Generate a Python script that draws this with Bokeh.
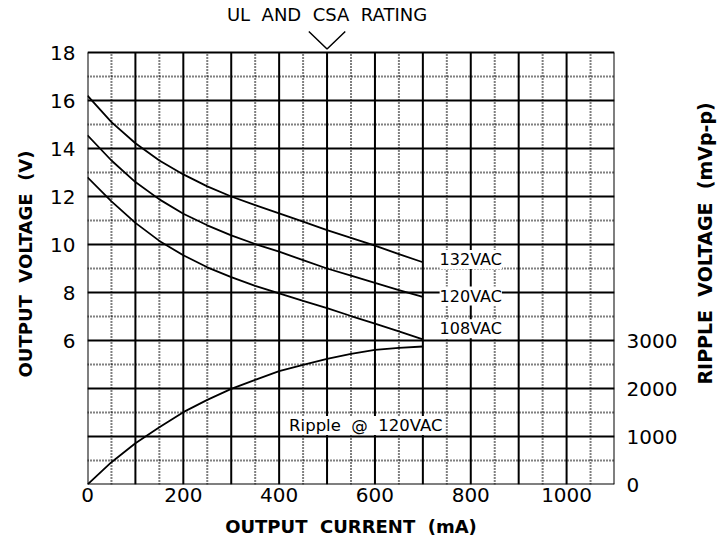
import math
from bokeh.plotting import figure
from bokeh.layouts import row
from bokeh.models import Range1d, LinearAxis, FixedTicker, Label, Title
from bokeh.embed import file_html
from bokeh.resources import INLINE

# ---------------- data ----------------
current_ma = [0, 50, 100, 150, 200, 250, 300, 350, 400, 450, 500, 550, 600, 650, 700]
v_132vac = [16.2, 15.1, 14.22, 13.5, 12.92, 12.42, 12.0, 11.64, 11.3, 10.95, 10.6, 10.28, 9.95, 9.6, 9.26]
v_120vac = [14.55, 13.5, 12.6, 11.88, 11.28, 10.8, 10.38, 10.02, 9.7, 9.35, 9.0, 8.7, 8.4, 8.1, 7.82]
v_108vac = [12.8, 11.8, 10.9, 10.15, 9.55, 9.05, 8.64, 8.28, 7.96, 7.65, 7.35, 7.02, 6.7, 6.38, 6.05]
ripple_mv = [0, 465, 861, 1194, 1507, 1764, 1993, 2180, 2361, 2493, 2618, 2722, 2806, 2847, 2875]

curve_names = ["132VAC", "120VAC", "108VAC"]
ripple_name = "Ripple \u00a0@ \u00a0120VAC"
rating_name = "UL \u00a0AND \u00a0CSA \u00a0RATING"
rating_ma = 500

x_major = list(range(0, 1101, 100))
x_minor = list(range(50, 1100, 100))
y_major = list(range(0, 19, 2))
y_minor = list(range(1, 18, 2))
bottom_ticks = [0, 200, 400, 600, 800, 1000]
left_ticks = [6, 8, 10, 12, 14, 16, 18]
right_ticks = [0, 1000, 2000, 3000]
mv_per_volt_unit = 3000 / 6   # 3000 mV sits on the 6 V line

FONT = "DejaVu Sans"
NB = "\u00a0"

# frame extends above the grid to hold the rating marker
PX_PER_UNIT = 24.0
Y_TOP = y_major[-1] + 52 / PX_PER_UNIT
X_MIN, X_MAX = x_major[0], x_major[-1]
Y_MIN, Y_MAX = y_major[0], y_major[-1]

FIG_H = 540
p = figure(width=690, height=FIG_H,
           x_range=Range1d(X_MIN, X_MAX), y_range=Range1d(Y_MIN, Y_TOP),
           output_backend="svg", toolbar_location=None,
           min_border_left=86, min_border_right=76,
           min_border_top=0, min_border_bottom=56)
p.extra_y_ranges = {"ripple": Range1d(Y_MIN * mv_per_volt_unit, Y_TOP * mv_per_volt_unit)}
p.background_fill_color = "white"
p.border_fill_color = "white"
p.outline_line_color = None
p.xgrid.visible = False
p.ygrid.visible = False

# grid drawn from the tick arrays
GRID_W = 2
p.segment(x0=x_minor, y0=[Y_MIN] * len(x_minor), x1=x_minor, y1=[Y_MAX] * len(x_minor),
          line_color="black", line_width=GRID_W, line_dash="1 2")
p.segment(x0=[X_MIN] * len(y_minor), y0=y_minor, x1=[X_MAX] * len(y_minor), y1=y_minor,
          line_color="black", line_width=GRID_W, line_dash="1 2")
p.segment(x0=x_major, y0=[Y_MIN] * len(x_major), x1=x_major, y1=[Y_MAX] * len(x_major),
          line_color="black", line_width=GRID_W)
p.segment(x0=[X_MIN] * len(y_major), y0=y_major, x1=[X_MAX] * len(y_major), y1=y_major,
          line_color="black", line_width=GRID_W)

def style_axis(ax, ticks, standoff):
    ax.ticker = FixedTicker(ticks=ticks)
    ax.axis_line_color = None
    ax.major_tick_line_color = None
    ax.minor_tick_line_color = None
    ax.major_tick_out = 0
    ax.major_tick_in = 0
    ax.minor_tick_out = 0
    ax.minor_tick_in = 0
    ax.major_label_standoff = standoff
    ax.major_label_text_font = FONT
    ax.major_label_text_font_size = "20px"
    ax.major_label_text_color = "black"
    ax.axis_label_text_font = FONT
    ax.axis_label_text_font_size = "18px"
    ax.axis_label_text_font_style = "bold"
    ax.axis_label_text_color = "black"

xa = p.xaxis[0]
style_axis(xa, bottom_ticks, 3)
xa.axis_label = NB.join(["OUTPUT", "", "CURRENT", "", "(mA)"])
xa.axis_label_standoff = 11

ya = p.yaxis[0]
style_axis(ya, left_ticks, 12)

raxis = LinearAxis(y_range_name="ripple")
style_axis(raxis, right_ticks, 12)
raxis.major_label_text_baseline = "alphabetic"
p.add_layout(raxis, "right")

left_title = Title(text=NB.join(["OUTPUT", "", "VOLTAGE", "", "(V)"]), align="left", offset=107,
                   text_font=FONT, text_font_size="18px", text_font_style="bold",
                   text_color="black", standoff=24)
p.add_layout(left_title, "left")

# curves
for ys in (v_132vac, v_120vac, v_108vac):
    p.line(current_ma, ys, line_color="black", line_width=1.8)
p.line(current_ma, ripple_mv, y_range_name="ripple", line_color="black", line_width=1.8)

# curve labels
label_ys = [9.375, 7.85, 6.49]
for name, ly in zip(curve_names, label_ys):
    p.add_layout(Label(x=800, y=ly, text=name, text_align="center", text_baseline="middle",
                       text_font=FONT, text_font_size="16px", text_color="black",
                       background_fill_color="white"))
p.add_layout(Label(x=581, y=2.46, text=ripple_name, text_align="center", text_baseline="middle",
                   text_font=FONT, text_font_size="16.5px", text_color="black",
                   background_fill_color="white"))

# rating title and V marker
p.text(x=[rating_ma], y=[Y_MAX + 38 / PX_PER_UNIT], text=[rating_name], text_align="center",
       text_baseline="middle", text_font={"value": FONT}, text_font_size="18px",
       text_color="black")
half_w = 38
p.line(x=[rating_ma - half_w, rating_ma, rating_ma + half_w],
       y=[Y_MAX + 21 / PX_PER_UNIT, Y_MAX + 3.5 / PX_PER_UNIT, Y_MAX + 21 / PX_PER_UNIT],
       line_color="black", line_width=1.5)

# right-hand axis title, in a narrow strip so it reads bottom-to-top
STRIP_W = 30
p2 = figure(width=STRIP_W, height=FIG_H, x_range=Range1d(0, STRIP_W), y_range=Range1d(0, FIG_H),
            output_backend="svg", toolbar_location=None,
            min_border_left=0, min_border_right=0, min_border_top=0, min_border_bottom=0)
p2.axis.visible = False
p2.grid.visible = False
p2.outline_line_color = None
p2.background_fill_color = "white"
p2.border_fill_color = "white"
p2.text(x=[14.5], y=[FIG_H - 271], text=[NB.join(["RIPPLE", "", "VOLTAGE", "", "(mVp-p)"])],
        angle=math.pi / 2, text_align="center", text_baseline="middle",
        text_font={"value": FONT}, text_font_size="19px", text_font_style="bold",
        text_color="black")

layout = row(p, p2, spacing=0)
open("out.html", "w").write(file_html(layout, INLINE))
